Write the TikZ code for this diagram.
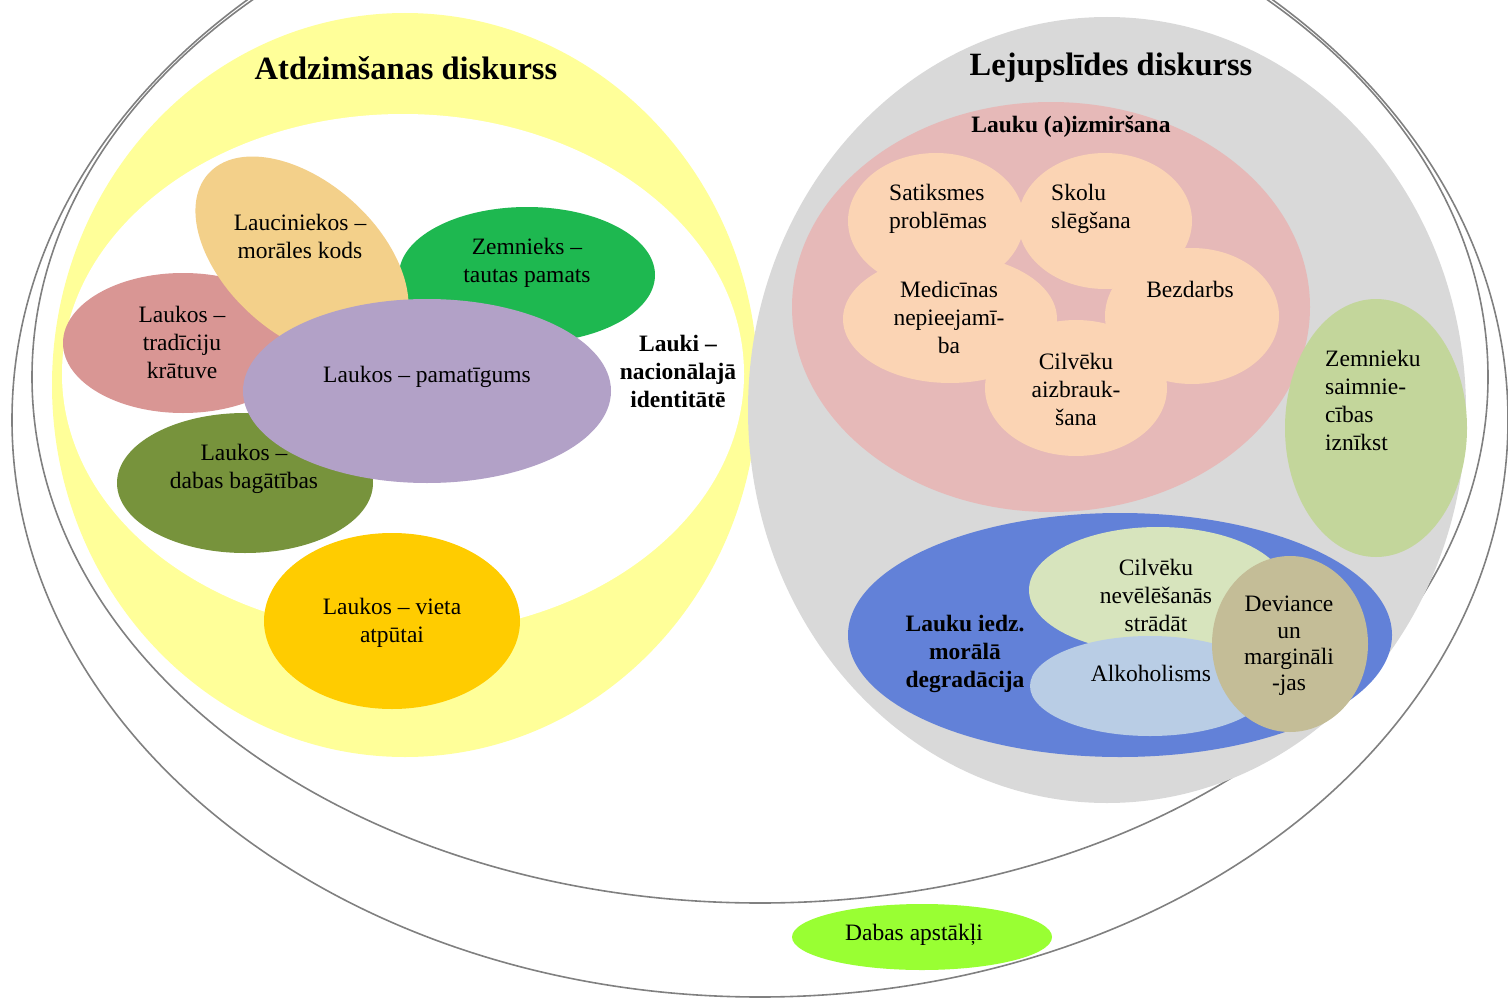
\documentclass[tikz,border=0pt]{standalone}
\usepackage{fontspec}
\setmainfont{Liberation Serif}
\definecolor{rimgray}{RGB}{128,128,128}
\definecolor{atdzfill}{RGB}{255,255,153}
\definecolor{lejupfill}{RGB}{217,217,217}
\definecolor{aizmfill}{RGB}{230,185,184}
\definecolor{peachfill}{RGB}{251,212,180}
\definecolor{saimnfill}{RGB}{195,214,155}
\definecolor{degrfill}{RGB}{98,129,216}
\definecolor{nevelfill}{RGB}{215,228,189}
\definecolor{alkofill}{RGB}{185,205,229}
\definecolor{devifill}{RGB}{196,189,151}
\definecolor{tradfill}{RGB}{217,150,148}
\definecolor{moralfill}{RGB}{243,208,138}
\definecolor{zemnfill}{RGB}{30,184,80}
\definecolor{pamatfill}{RGB}{178,161,199}
\definecolor{dabagfill}{RGB}{119,147,60}
\definecolor{atputfill}{RGB}{255,204,0}
\definecolor{dabasfill}{RGB}{153,255,51}

\begin{document}
\begin{tikzpicture}[x=1pt,y=-1pt,
  plaintxt/.style={font=\fontsize{23.5}{28}\selectfont,align=center,inner sep=0pt},
  boldtxt/.style={plaintxt,font=\fontsize{23.5}{28}\selectfont\bfseries},
  headtxt/.style={font=\fontsize{32.5}{36}\selectfont\bfseries,inner sep=0pt},
  rim/.style={draw=rimgray,line width=1.6}]
\useasboundingbox (0,0) rectangle (1508,998);
\clip (0,0) rectangle (1508,998);

\draw[rim] (760,420) ellipse [x radius=748, y radius=577];
\draw[rim] (760,377) ellipse [x radius=728, y radius=526];

\fill[atdzfill] (405,385) ellipse [x radius=353, y radius=372];
\fill[white] (403,374) ellipse [x radius=341, y radius=260];
\fill[lejupfill] (1107,410) ellipse [x radius=359, y radius=393];

\fill[tradfill] (183,343) ellipse [x radius=120, y radius=70];
\fill[zemnfill] (527,275) ellipse [x radius=128, y radius=68];
\fill[moralfill, rotate around={-42:(302,258)}] (302,258) ellipse [x radius=126, y radius=76];
\fill[dabagfill] (245,483) ellipse [x radius=128, y radius=70];
\fill[pamatfill] (427,391) ellipse [x radius=184, y radius=92];
\fill[atputfill] (392,621) ellipse [x radius=128, y radius=88];

\fill[aizmfill] (1051,307) ellipse [x radius=259, y radius=205];
\fill[peachfill] (936,221) ellipse [x radius=88, y radius=68];
\fill[peachfill] (1105,221) ellipse [x radius=87, y radius=68];
\fill[peachfill] (950,319) ellipse [x radius=107, y radius=64];
\fill[peachfill] (1192,316) ellipse [x radius=87, y radius=68];
\fill[peachfill] (1076,388) ellipse [x radius=91, y radius=68];
\fill[saimnfill] (1376,428) ellipse [x radius=91, y radius=129];

\fill[degrfill] (1120,635) ellipse [x radius=272, y radius=122];
\fill[nevelfill] (1158,590) ellipse [x radius=129, y radius=63];
\fill[alkofill] (1150,686) ellipse [x radius=120, y radius=50];
\fill[devifill] (1290,644) ellipse [x radius=78, y radius=88];

\fill[dabasfill] (922,937) ellipse [x radius=130, y radius=33];

\node[headtxt] (atdz) at (406,68) {Atdzimšanas diskurss};
\node[headtxt] (lejup) at (1111,68) {Lejupslīdes diskurss};
\node[plaintxt] (moral) at (300,236) {Lauciniekos –\\morāles kods};
\node[plaintxt] (zemn) at (527,263) {Zemnieks –\\tautas pamats};
\node[plaintxt] (trad) at (182,342) {Laukos –\\tradīciju\\krātuve};
\node[plaintxt] (pamat) at (427,377) {Laukos – pamatīgums};
\node[plaintxt] (dabag) at (244,469) {Laukos –\\dabas bagātības};
\node[plaintxt] (atput) at (392,623) {Laukos – vieta\\atpūtai};
\node[boldtxt] (ident) at (678,371) {Lauki –\\nacionālajā\\identitātē};

\node[boldtxt] (aizm) at (1071,127) {Lauku (a)izmiršana};
\node[plaintxt,align=left,anchor=west] (satik) at (889,209) {Satiksmes\\problēmas};
\node[plaintxt,align=left,anchor=west] (skolu) at (1051,209) {Skolu\\slēgšana};
\node[plaintxt] (medic) at (949,317) {Medicīnas\\nepieejamī-\\ba};
\node[plaintxt] (bezd) at (1190,289) {Bezdarbs};
\node[plaintxt] (aizbr) at (1076,389) {Cilvēku\\aizbrauk-\\šana};
\node[plaintxt,align=left,anchor=west] (saimn) at (1325,400) {Zemnieku\\saimnie-\\cības\\iznīkst};

\node[boldtxt] (degr) at (965,654) {Lauku iedz.\\morālā\\degradācija};
\node[plaintxt] (nevel) at (1156,595) {Cilvēku\\nevēlēšanās\\strādāt};
\node[plaintxt] (alko) at (1151,673) {Alkoholisms};
\node[plaintxt,font=\fontsize{23.5}{26.3}\selectfont] (devi) at (1289,646) {Deviance\\un\\margināli\\-jas};

\node[plaintxt] (dabas) at (914,935) {Dabas apstākļi};
\end{tikzpicture}
\end{document}
